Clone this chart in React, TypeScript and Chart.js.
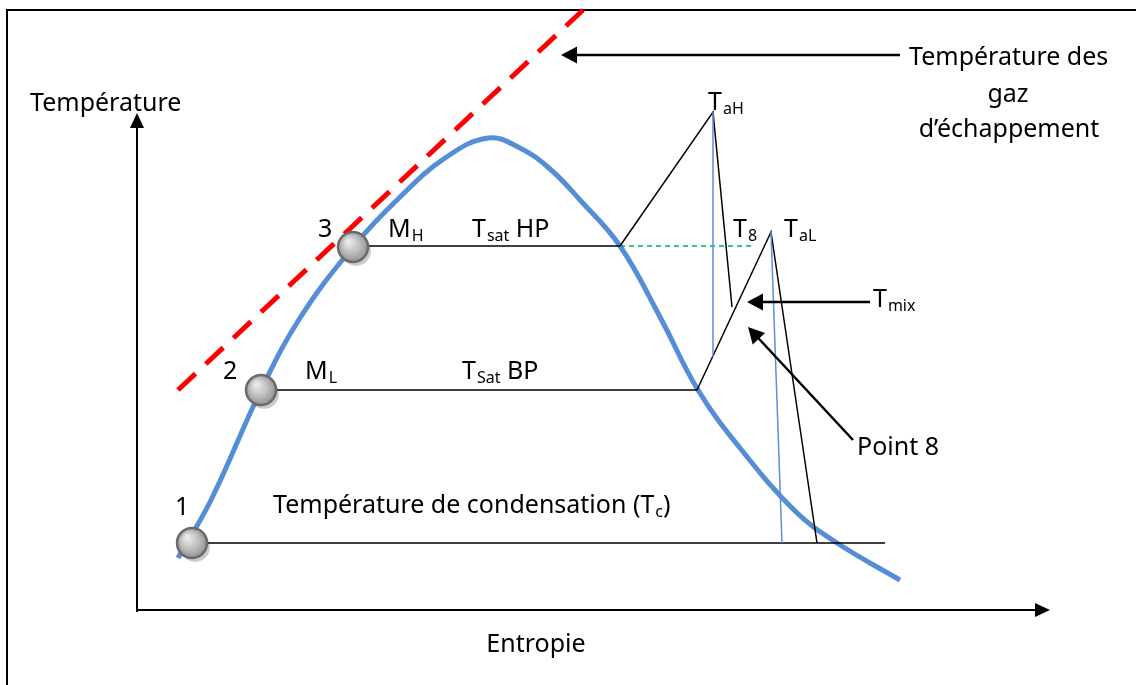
import React, { useEffect, useRef } from "react";
import { Chart, registerables } from "chart.js";

Chart.register(...registerables);

// Diagram space: x = entropie (0..1136), y = température axis (0..685, drawn top-down)
type P = [number, number];

const saturationDome: P[] = [
  [178, 558], [211, 500], [261, 390], [300, 318], [353, 247], [400, 197],
  [445, 158], [488, 138], [520, 148], [550, 169], [580, 200], [620, 246],
  [660, 317], [698, 390], [740, 448], [795, 511], [837, 543], [900, 580],
];
const exhaustTangent: P[] = [[178, 390], [583, 10]];
const condensationLine: P[] = [[192, 543], [885, 543]];
const lowPressureLine: P[] = [[261, 390], [697, 390]];
const highPressureLine: P[] = [[353, 246], [620, 246]];
const highPressureDash: P[] = [[620, 246], [755, 246]];
const highGasPath: P[] = [[620, 246], [713, 112], [732, 307]];
const highGasVertical: P[] = [[713, 112], [713, 357]];
const lowGasPath: P[] = [[697, 390], [771, 232], [817, 543]];
const lowGasVertical: P[] = [[771, 232], [782, 543]];
const statePoints: P[] = [[192, 543], [261, 390], [353, 247]];
const frameLines: P[] = [[7, 690], [7, 10], [1140, 10]];
const axisArrows: { from: P; to: P }[] = [
  { from: [137, 612], to: [137, 113] },
  { from: [136, 610], to: [1050, 610] },
];
const pointerArrows: { from: P; to: P }[] = [
  { from: [900, 55], to: [561, 55] },
  { from: [870, 302], to: [747, 302] },
  { from: [853, 440], to: [748, 327] },
];

type Label = { text: string; sub?: string; after?: string; at: P; center?: boolean };
const labels: Label[] = [
  { text: "Température", at: [30, 111] },
  { text: "Entropie", at: [536, 652], center: true },
  { text: "Température des", at: [909, 65] },
  { text: "gaz", at: [1008, 102], center: true },
  { text: "d’échappement", at: [1009, 137], center: true },
  { text: "1", at: [175, 515] },
  { text: "2", at: [223, 379] },
  { text: "3", at: [318, 237] },
  { text: "M", sub: "H", at: [388, 237] },
  { text: "T", sub: "sat", after: " HP", at: [472, 237] },
  { text: "M", sub: "L", at: [305, 379] },
  { text: "T", sub: "Sat", after: " BP", at: [462, 379] },
  { text: "Température de condensation (T", sub: "c", after: ")", at: [273, 513] },
  { text: "T", sub: "aH", at: [708, 110] },
  { text: "T", sub: "8", at: [733, 237] },
  { text: "T", sub: "aL", at: [784, 237] },
  { text: "T", sub: "mix", at: [873, 307] },
  { text: "Point 8", at: [857, 455] },
];

const FONT = "'Noto Sans'";
const MAIN_SIZE = 25;
const SUB_SIZE = 16;

const toXY = (pts: P[]) => pts.map(([x, y]) => ({ x, y }));

function line(pts: P[], color: string, width: number, extra: any = {}) {
  return {
    data: toXY(pts),
    showLine: true,
    borderColor: color,
    borderWidth: width,
    pointRadius: 0,
    fill: false,
    tension: 0,
    clip: false as any,
    ...extra,
  };
}

export default function App() {
  const ref = useRef<HTMLCanvasElement | null>(null);

  useEffect(() => {
    document.body.style.margin = "0";
    const canvas = ref.current;
    if (!canvas) return;

    const drawArrow = (ctx: CanvasRenderingContext2D, chart: any, a: { from: P; to: P }, w: number, len: number, half: number) => {
      const sx = chart.scales.x, sy = chart.scales.y;
      const x1 = sx.getPixelForValue(a.from[0]), y1 = sy.getPixelForValue(a.from[1]);
      const x2 = sx.getPixelForValue(a.to[0]), y2 = sy.getPixelForValue(a.to[1]);
      const ang = Math.atan2(y2 - y1, x2 - x1);
      const bx = x2 - Math.cos(ang) * len, by = y2 - Math.sin(ang) * len;
      ctx.save();
      ctx.strokeStyle = "#000";
      ctx.fillStyle = "#000";
      ctx.lineWidth = w;
      ctx.beginPath();
      ctx.moveTo(x1, y1);
      ctx.lineTo(bx + Math.cos(ang) * 2, by + Math.sin(ang) * 2);
      ctx.stroke();
      ctx.beginPath();
      ctx.moveTo(x2, y2);
      ctx.lineTo(bx + Math.sin(ang) * half, by - Math.cos(ang) * half);
      ctx.lineTo(bx - Math.sin(ang) * half, by + Math.cos(ang) * half);
      ctx.closePath();
      ctx.fill();
      ctx.restore();
    };

    const decorations = {
      id: "decorations",
      beforeDatasetDraw(chart: any, args: any) {
        if (args.index !== 0) return;
        const ctx = chart.ctx;
        const sx = chart.scales.x, sy = chart.scales.y;
        ctx.save();
        ctx.fillStyle = "rgba(0,0,0,0.2)";
        statePoints.forEach(([x, y]) => {
          ctx.beginPath();
          ctx.arc(sx.getPixelForValue(x) + 3, sy.getPixelForValue(y) + 4, 15, 0, Math.PI * 2);
          ctx.fill();
        });
        ctx.restore();
      },
      afterDatasetsDraw(chart: any) {
        const ctx: CanvasRenderingContext2D = chart.ctx;
        const sx = chart.scales.x, sy = chart.scales.y;
        axisArrows.forEach((a) => drawArrow(ctx, chart, a, 2, 15, 7));
        pointerArrows.forEach((a) => drawArrow(ctx, chart, a, 2.5, 16, 8.5));
        ctx.save();
        ctx.fillStyle = "#000";
        ctx.textBaseline = "alphabetic";
        labels.forEach((l) => {
          const main = `${MAIN_SIZE}px ${FONT}`;
          const subF = `${SUB_SIZE}px ${FONT}`;
          ctx.font = main;
          const w1 = ctx.measureText(l.text).width;
          ctx.font = subF;
          const w2 = l.sub ? ctx.measureText(l.sub).width : 0;
          ctx.font = main;
          const w3 = l.after ? ctx.measureText(l.after).width : 0;
          let x = sx.getPixelForValue(l.at[0]);
          const y = sy.getPixelForValue(l.at[1]);
          if (l.center) x -= (w1 + w2 + w3) / 2;
          ctx.textAlign = "left";
          ctx.font = main;
          ctx.fillText(l.text, x, y);
          if (l.sub) {
            ctx.font = subF;
            ctx.fillText(l.sub, x + w1 + 1, y + 4);
          }
          if (l.after) {
            ctx.font = main;
            ctx.fillText(l.after, x + w1 + w2 + 1, y);
          }
        });
        ctx.restore();
      },
    };

    const chart = new Chart(canvas, {
      type: "scatter",
      data: {
        datasets: [
          {
            data: toXY(statePoints),
            showLine: false,
            pointRadius: 15,
            pointHoverRadius: 15,
            pointBorderColor: "#6a6a6a",
            pointBorderWidth: 2.5,
            clip: false as any,
            pointBackgroundColor: (c: any) => {
              const ch = c.chart;
              if (!c.parsed || !ch.scales?.x || !ch.scales?.y) return "#b0b0b0";
              const px = ch.scales.x.getPixelForValue(c.parsed.x);
              const py = ch.scales.y.getPixelForValue(c.parsed.y);
              if (!Number.isFinite(px) || !Number.isFinite(py)) return "#b0b0b0";
              const g = ch.ctx.createRadialGradient(px - 5, py - 6, 1, px, py, 16);
              g.addColorStop(0, "#ececec");
              g.addColorStop(0.55, "#bdbdbd");
              g.addColorStop(1, "#8e8e8e");
              return g;
            },
          } as any,
          line(highGasVertical, "#5b8fd6", 1.5),
          line(lowGasVertical, "#5b8fd6", 1.5),
          line(highGasPath, "#000", 1.5),
          line(lowGasPath, "#000", 1.5),
          line(highPressureDash, "#00b050", 1.5, { borderDash: [5, 4] }),
          line(highPressureLine, "#000", 1.5),
          line(lowPressureLine, "#000", 1.5),
          line(condensationLine, "#000", 1.5),
          line(exhaustTangent, "#ff0000", 5, { borderDash: [24, 14], borderCapStyle: "butt" }),
          line(saturationDome, "#558ed5", 5, { tension: 0.4, cubicInterpolationMode: "default" }),
          line(frameLines, "#000", 2),
        ],
      },
      options: {
        animation: false,
        responsive: false,
        devicePixelRatio: 1,
        layout: { padding: 0, autoPadding: false } as any,
        events: [],
        plugins: { legend: { display: false }, tooltip: { enabled: false } },
        scales: {
          x: { type: "linear", min: 0, max: 1136, display: false },
          y: { type: "linear", min: 0, max: 685, reverse: true, display: false },
        },
      },
      plugins: [decorations],
    });

    return () => chart.destroy();
  }, []);

  return (
    <div style={{ width: 1136, height: 685, background: "#fff" }}>
      <canvas ref={ref} width={1136} height={685} style={{ display: "block" }} />
    </div>
  );
}
